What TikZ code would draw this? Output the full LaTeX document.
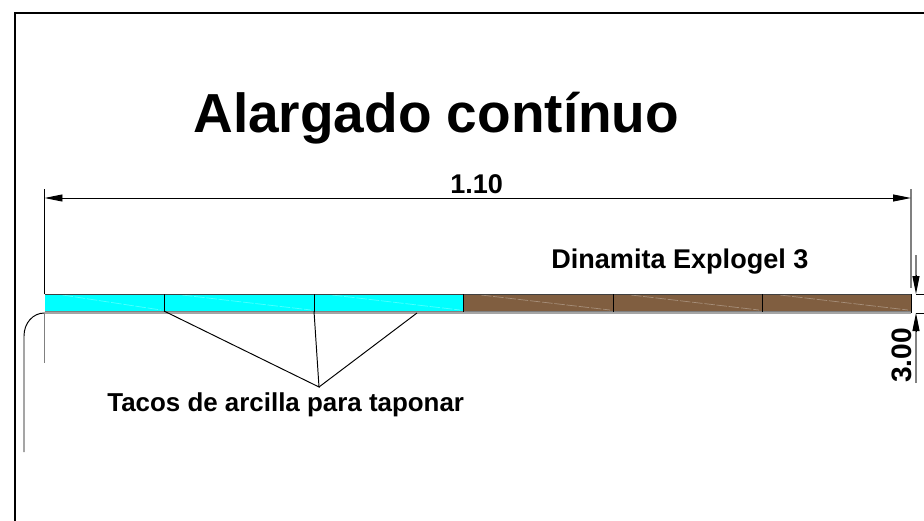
\documentclass[tikz,border=0pt]{standalone}
\usepackage{xcolor}
\usepackage{fontspec}
\setmainfont{Liberation Sans}
\usepackage{tikz}
\usetikzlibrary{arrows.meta}
\definecolor{arcilla}{rgb}{0.0,1.0,1.0}
\definecolor{dinamita}{rgb}{0.5,0.37,0.25}
\tikzset{>={Triangle[length=0.36cm,width=0.14cm]}}
\tikzset{
  marco/.style={line width=1.2pt},
  fina/.style={line width=0.55pt},
  gris/.style={line width=0.8pt,draw=gray},
  cota/.style={line width=0.55pt,<->},
  rotulo/.style={font=\bfseries\fontsize{15.4}{18}\selectfont,inner sep=0pt,anchor=base west}
}

\begin{document}
\begin{tikzpicture}[x=0.02cm,y=-0.02cm]
  \useasboundingbox (0, 0) rectangle (924, 521);
  \draw[marco] (924, 13) -- (15, 13) -- (15, 521);
  % cartucho
  \draw[fill=arcilla,draw=none] (44.5, 294) rectangle (463, 312);
  \draw[fill=dinamita,draw=none] (463, 294) rectangle (911, 312);
  \foreach \xa/\xb in {44.5/164, 164/314, 314/463, 463/613, 613/762, 762/911} {
    \draw[white,opacity=0.3,line width=0.4pt,dash pattern=on 6pt off 1pt] (\xa+18, 295) -- (\xb-3, 310);
  }
  \draw[fina,draw=black!75] (44.5, 294) -- (911, 294);
  \draw[gris] (44.5, 311.3) -- (911, 311.3);
  \foreach \x in {164, 314, 463, 613, 762} {
    \draw[fina] (\x, 294) -- (\x, 312);
  }
  \draw[fina] (911, 294) -- (911, 313);
  \draw[fina] (24, 452) -- (24, 336) .. controls (24, 323) and (33, 313) .. (44.5, 313) -- (911, 313);
  % cotas
  \coordinate (cotaizq) at (44.5, 198);
  \coordinate (cotader) at (911, 198);
  \draw[fina] (44.5, 189) -- (44.5, 294);
  \draw[gris] (44.5, 313) -- (44.5, 363);
  \draw[gris] (911, 189) -- (911, 288);
  \draw[cota] (cotaizq) -- (cotader);
  \coordinate (altsup) at (916, 255);
  \coordinate (altsupb) at (916, 294);
  \coordinate (altinf) at (916, 383);
  \coordinate (altinfb) at (916, 313);
  \draw[gris] (altsup) -- (916, 276);
  \draw[fina,->] (916, 275) -- (altsupb);
  \draw[gris] (altinf) -- (916, 331);
  \draw[fina,->] (916, 332) -- (altinfb);
  \draw[fina] (altsupb) -- (924, 294);
  \draw[fina] (altinfb) -- (924, 313);
  % textos
  \node[font=\bfseries\fontsize{31.3}{36}\selectfont,inner sep=0pt,anchor=base west] (titulo) at (193, 132) {Alargado contínuo};
  \node[rotulo] (largo) at (450, 193) {1.10};
  \node[rotulo] (dinamita) at (551, 268) {Dinamita Explogel 3};
  \node[rotulo,font=\bfseries\fontsize{14.75}{18}\selectfont] (tacos) at (107, 411) {Tacos de arcilla para taponar};
  \node[rotulo,rotate=90,font=\bfseries\fontsize{16}{18}\selectfont] (alto) at (911, 383) {3.00};
  % lineas de los tacos
  \coordinate (punta) at (319, 387);
  \coordinate (tacoa) at (164, 311);
  \coordinate (tacob) at (314, 311);
  \coordinate (tacoc) at (417, 313);
  \draw[fina] (tacoa) -- (punta) -- (tacob);
  \draw[fina] (punta) -- (tacoc);
\end{tikzpicture}
\end{document}
